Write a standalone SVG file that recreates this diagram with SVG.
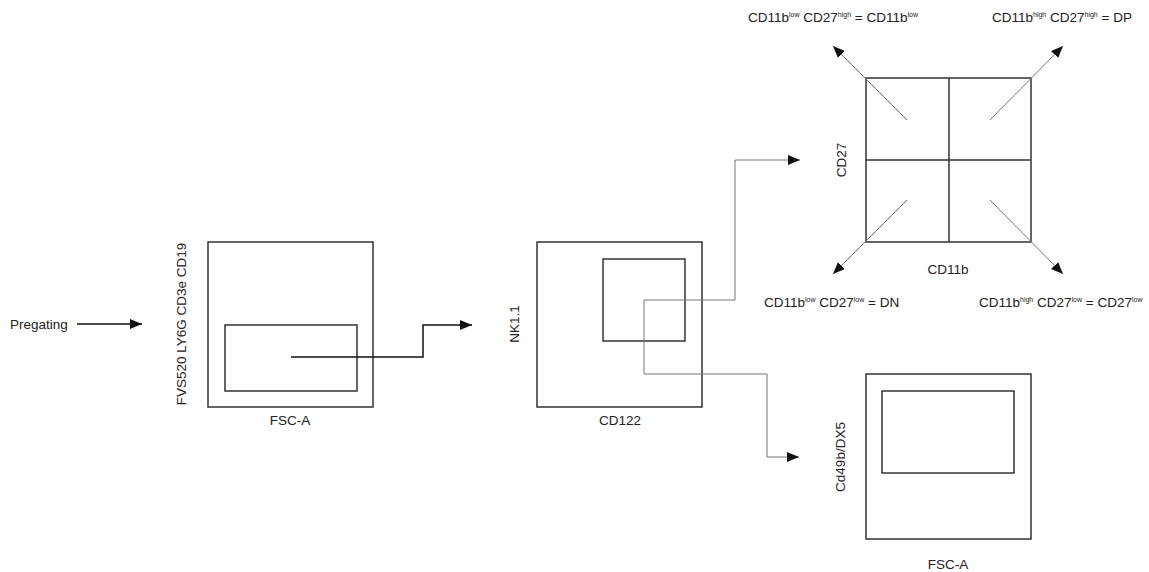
<svg xmlns="http://www.w3.org/2000/svg" width="1149" height="572" viewBox="0 0 1149 572">
<style>
.box{fill:none;stroke:#333;stroke-width:1.5}
.t{font-family:"Liberation Sans",Arial,sans-serif;font-size:13.5px;fill:#222}
.sup{font-size:7px}
.c1{fill:none;stroke:#111;stroke-width:1.5}
.c2{fill:none;stroke:#777;stroke-width:1}
</style>
<defs>
<marker id="ah" markerUnits="userSpaceOnUse" markerWidth="14" markerHeight="12" refX="12" refY="5" orient="auto">
<path d="M0,0 L12,5 L0,10 z" fill="#111"/>
</marker>
</defs>
<rect width="1149" height="572" fill="#fff"/>

<g id="pregating">
<text class="t" x="10" y="329">Pregating</text>
</g>

<g id="plot1">
<rect class="box" x="208" y="242" width="165" height="165"/>
<rect class="box" x="225" y="325" width="132" height="66"/>
<text class="t" transform="translate(186,324) rotate(-90)" text-anchor="middle">FVS520 LY6G CD3e CD19</text>
<text class="t" x="290" y="425" text-anchor="middle">FSC-A</text>
</g>

<g id="plot2">
<rect class="box" x="537" y="242" width="165" height="165"/>
<rect class="box" x="603" y="259" width="82" height="82"/>
<text class="t" transform="translate(519,324) rotate(-90)" text-anchor="middle">NK1.1</text>
<text class="t" x="620" y="425" text-anchor="middle">CD122</text>
</g>

<g id="plot3">
<rect class="box" x="866" y="78" width="165" height="164"/>
<line class="box" x1="949" y1="78" x2="949" y2="242"/>
<line class="box" x1="866" y1="160" x2="1031" y2="160"/>
<text class="t" transform="translate(846,160) rotate(-90)" text-anchor="middle">CD27</text>
<text class="t" x="948" y="274" text-anchor="middle">CD11b</text>
</g>

<g id="plot4">
<rect class="box" x="866" y="374" width="165" height="165"/>
<rect class="box" x="882" y="391" width="132" height="82"/>
<text class="t" transform="translate(845,457) rotate(-90)" text-anchor="middle">Cd49b/DX5</text>
<text class="t" x="948" y="569" text-anchor="middle">FSC-A</text>
</g>

<g id="labels">
<text class="t" x="748" y="22">CD11b<tspan class="sup" dy="-5">low</tspan><tspan dy="5"> CD27</tspan><tspan class="sup" dy="-5">high</tspan><tspan dy="5"> = CD11b</tspan><tspan class="sup" dy="-5">low</tspan></text>
<text class="t" x="992" y="22">CD11b<tspan class="sup" dy="-5">high</tspan><tspan dy="5"> CD27</tspan><tspan class="sup" dy="-5">high</tspan><tspan dy="5"> = DP</tspan></text>
<text class="t" x="764" y="307">CD11b<tspan class="sup" dy="-5">low</tspan><tspan dy="5"> CD27</tspan><tspan class="sup" dy="-5">low</tspan><tspan dy="5"> = DN</tspan></text>
<text class="t" x="979" y="307">CD11b<tspan class="sup" dy="-5">high</tspan><tspan dy="5"> CD27</tspan><tspan class="sup" dy="-5">low</tspan><tspan dy="5"> = CD27</tspan><tspan class="sup" dy="-5">low</tspan></text>
</g>

<g id="connectors">
<line class="c1" x1="77" y1="324" x2="142" y2="324" marker-end="url(#ah)"/>
<path class="c1" d="M291,357 H423 V325 H472" marker-end="url(#ah)"/>
<path class="c2" d="M644,300 H735 V160 H800" marker-end="url(#ah)"/>
<path class="c2" d="M644,300 V374 H767 V457 H799" marker-end="url(#ah)"/>
<line class="c2" x1="907" y1="120" x2="833" y2="46" marker-end="url(#ah)"/>
<line class="c2" x1="990" y1="120" x2="1063" y2="46" marker-end="url(#ah)"/>
<line class="c2" x1="907" y1="200" x2="833" y2="274" marker-end="url(#ah)"/>
<line class="c2" x1="990" y1="200" x2="1063" y2="274" marker-end="url(#ah)"/>
</g>
</svg>
